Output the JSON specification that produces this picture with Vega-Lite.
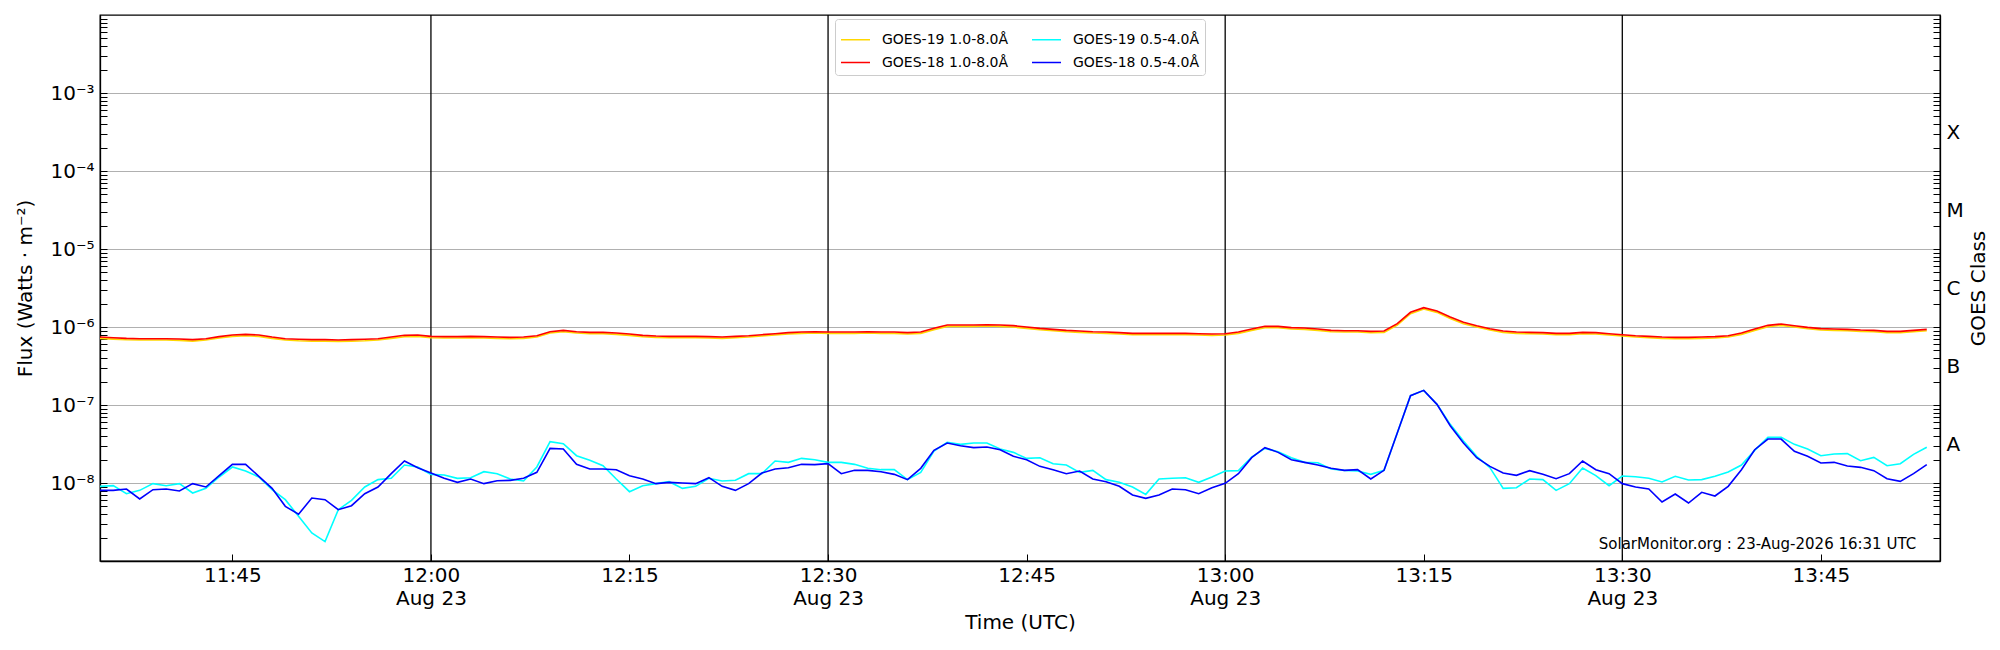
{
  "$schema": "https://vega.github.io/schema/vega-lite/v6.json",
  "width": 1840,
  "height": 546,
  "autosize": {"type": "none"},
  "padding": {"left": 100, "top": 15, "right": 60, "bottom": 89},
  "background": "white",
  "config": {
    "font": "DejaVu Sans",
    "view": {"stroke": "black", "strokeWidth": 1.3},
    "axis": {
      "domainColor": "black", "domainWidth": 1.3, "tickColor": "black", "tickWidth": 1,
      "labelColor": "black", "titleColor": "black", "titleFontWeight": "normal",
      "labelFontSize": 20, "titleFontSize": 20
    }
  },
  "data": {
    "values": [
      {"t": "2026-08-23T11:35:00Z", "g19l": 7.14e-7, "g18l": 7.44e-7, "g19s": 9.06e-9, "g18s": 8.05e-9},
      {"t": "2026-08-23T11:36:00Z", "g19l": 7.00e-7, "g18l": 7.29e-7, "g19s": 9.24e-9, "g18s": 8.05e-9},
      {"t": "2026-08-23T11:37:00Z", "g19l": 6.86e-7, "g18l": 7.15e-7, "g19s": 7.29e-9, "g18s": 8.38e-9},
      {"t": "2026-08-23T11:38:00Z", "g19l": 6.80e-7, "g18l": 7.08e-7, "g19s": 8.05e-9, "g18s": 6.24e-9},
      {"t": "2026-08-23T11:39:00Z", "g19l": 6.80e-7, "g18l": 7.08e-7, "g19s": 9.81e-9, "g18s": 8.21e-9},
      {"t": "2026-08-23T11:40:00Z", "g19l": 6.80e-7, "g18l": 7.08e-7, "g19s": 9.24e-9, "g18s": 8.38e-9},
      {"t": "2026-08-23T11:41:00Z", "g19l": 6.73e-7, "g18l": 7.01e-7, "g19s": 9.81e-9, "g18s": 7.90e-9},
      {"t": "2026-08-23T11:42:00Z", "g19l": 6.60e-7, "g18l": 6.88e-7, "g19s": 7.44e-9, "g18s": 9.81e-9},
      {"t": "2026-08-23T11:43:00Z", "g19l": 6.80e-7, "g18l": 7.08e-7, "g19s": 8.54e-9, "g18s": 8.89e-9},
      {"t": "2026-08-23T11:44:00Z", "g19l": 7.22e-7, "g18l": 7.52e-7, "g19s": 1.194e-8, "g18s": 1.242e-8},
      {"t": "2026-08-23T11:45:00Z", "g19l": 7.58e-7, "g18l": 7.90e-7, "g19s": 1.604e-8, "g18s": 1.735e-8},
      {"t": "2026-08-23T11:46:00Z", "g19l": 7.73e-7, "g18l": 8.05e-7, "g19s": 1.425e-8, "g18s": 1.735e-8},
      {"t": "2026-08-23T11:47:00Z", "g19l": 7.58e-7, "g18l": 7.90e-7, "g19s": 1.194e-8, "g18s": 1.218e-8},
      {"t": "2026-08-23T11:48:00Z", "g19l": 7.14e-7, "g18l": 7.44e-7, "g19s": 8.21e-9, "g18s": 8.54e-9},
      {"t": "2026-08-23T11:49:00Z", "g19l": 6.80e-7, "g18l": 7.08e-7, "g19s": 6.11e-9, "g18s": 5.02e-9},
      {"t": "2026-08-23T11:50:00Z", "g19l": 6.67e-7, "g18l": 6.95e-7, "g19s": 3.74e-9, "g18s": 3.97e-9},
      {"t": "2026-08-23T11:51:00Z", "g19l": 6.60e-7, "g18l": 6.88e-7, "g19s": 2.29e-9, "g18s": 6.42e-9},
      {"t": "2026-08-23T11:52:00Z", "g19l": 6.60e-7, "g18l": 6.88e-7, "g19s": 1.77e-9, "g18s": 6.11e-9},
      {"t": "2026-08-23T11:53:00Z", "g19l": 6.54e-7, "g18l": 6.81e-7, "g19s": 4.55e-9, "g18s": 4.55e-9},
      {"t": "2026-08-23T11:54:00Z", "g19l": 6.60e-7, "g18l": 6.88e-7, "g19s": 5.99e-9, "g18s": 5.12e-9},
      {"t": "2026-08-23T11:55:00Z", "g19l": 6.67e-7, "g18l": 6.95e-7, "g19s": 8.89e-9, "g18s": 7.29e-9},
      {"t": "2026-08-23T11:56:00Z", "g19l": 6.80e-7, "g18l": 7.08e-7, "g19s": 1.104e-8, "g18s": 8.89e-9},
      {"t": "2026-08-23T11:57:00Z", "g19l": 7.14e-7, "g18l": 7.44e-7, "g19s": 1.148e-8, "g18s": 1.317e-8},
      {"t": "2026-08-23T11:58:00Z", "g19l": 7.51e-7, "g18l": 7.82e-7, "g19s": 1.701e-8, "g18s": 1.914e-8},
      {"t": "2026-08-23T11:59:00Z", "g19l": 7.58e-7, "g18l": 7.90e-7, "g19s": 1.604e-8, "g18s": 1.572e-8},
      {"t": "2026-08-23T12:00:00Z", "g19l": 7.29e-7, "g18l": 7.59e-7, "g19s": 1.291e-8, "g18s": 1.343e-8},
      {"t": "2026-08-23T12:01:00Z", "g19l": 7.22e-7, "g18l": 7.52e-7, "g19s": 1.266e-8, "g18s": 1.148e-8},
      {"t": "2026-08-23T12:02:00Z", "g19l": 7.22e-7, "g18l": 7.52e-7, "g19s": 1.148e-8, "g18s": 1.020e-8},
      {"t": "2026-08-23T12:03:00Z", "g19l": 7.29e-7, "g18l": 7.59e-7, "g19s": 1.170e-8, "g18s": 1.125e-8},
      {"t": "2026-08-23T12:04:00Z", "g19l": 7.22e-7, "g18l": 7.52e-7, "g19s": 1.397e-8, "g18s": 9.81e-9},
      {"t": "2026-08-23T12:05:00Z", "g19l": 7.14e-7, "g18l": 7.44e-7, "g19s": 1.317e-8, "g18s": 1.071e-8},
      {"t": "2026-08-23T12:06:00Z", "g19l": 7.08e-7, "g18l": 7.37e-7, "g19s": 1.125e-8, "g18s": 1.082e-8},
      {"t": "2026-08-23T12:07:00Z", "g19l": 7.14e-7, "g18l": 7.44e-7, "g19s": 1.061e-8, "g18s": 1.148e-8},
      {"t": "2026-08-23T12:08:00Z", "g19l": 7.43e-7, "g18l": 7.74e-7, "g19s": 1.604e-8, "g18s": 1.370e-8},
      {"t": "2026-08-23T12:09:00Z", "g19l": 8.36e-7, "g18l": 8.71e-7, "g19s": 3.39e-8, "g18s": 2.78e-8},
      {"t": "2026-08-23T12:10:00Z", "g19l": 8.70e-7, "g18l": 9.06e-7, "g19s": 3.19e-8, "g18s": 2.73e-8},
      {"t": "2026-08-23T12:11:00Z", "g19l": 8.36e-7, "g18l": 8.71e-7, "g19s": 2.24e-8, "g18s": 1.735e-8},
      {"t": "2026-08-23T12:12:00Z", "g19l": 8.20e-7, "g18l": 8.54e-7, "g19s": 1.952e-8, "g18s": 1.512e-8},
      {"t": "2026-08-23T12:13:00Z", "g19l": 8.20e-7, "g18l": 8.54e-7, "g19s": 1.668e-8, "g18s": 1.512e-8},
      {"t": "2026-08-23T12:14:00Z", "g19l": 8.04e-7, "g18l": 8.38e-7, "g19s": 1.125e-8, "g18s": 1.482e-8},
      {"t": "2026-08-23T12:15:00Z", "g19l": 7.80e-7, "g18l": 8.13e-7, "g19s": 7.74e-9, "g18s": 1.242e-8},
      {"t": "2026-08-23T12:16:00Z", "g19l": 7.51e-7, "g18l": 7.82e-7, "g19s": 9.24e-9, "g18s": 1.125e-8},
      {"t": "2026-08-23T12:17:00Z", "g19l": 7.36e-7, "g18l": 7.67e-7, "g19s": 9.81e-9, "g18s": 9.81e-9},
      {"t": "2026-08-23T12:18:00Z", "g19l": 7.29e-7, "g18l": 7.59e-7, "g19s": 1.040e-8, "g18s": 1.020e-8},
      {"t": "2026-08-23T12:19:00Z", "g19l": 7.29e-7, "g18l": 7.59e-7, "g19s": 8.54e-9, "g18s": 1.000e-8},
      {"t": "2026-08-23T12:20:00Z", "g19l": 7.29e-7, "g18l": 7.59e-7, "g19s": 9.06e-9, "g18s": 9.81e-9},
      {"t": "2026-08-23T12:21:00Z", "g19l": 7.22e-7, "g18l": 7.52e-7, "g19s": 1.148e-8, "g18s": 1.170e-8},
      {"t": "2026-08-23T12:22:00Z", "g19l": 7.14e-7, "g18l": 7.44e-7, "g19s": 1.061e-8, "g18s": 9.06e-9},
      {"t": "2026-08-23T12:23:00Z", "g19l": 7.29e-7, "g18l": 7.59e-7, "g19s": 1.082e-8, "g18s": 8.05e-9},
      {"t": "2026-08-23T12:24:00Z", "g19l": 7.43e-7, "g18l": 7.74e-7, "g19s": 1.317e-8, "g18s": 9.81e-9},
      {"t": "2026-08-23T12:25:00Z", "g19l": 7.65e-7, "g18l": 7.97e-7, "g19s": 1.317e-8, "g18s": 1.343e-8},
      {"t": "2026-08-23T12:26:00Z", "g19l": 7.88e-7, "g18l": 8.21e-7, "g19s": 1.914e-8, "g18s": 1.512e-8},
      {"t": "2026-08-23T12:27:00Z", "g19l": 8.12e-7, "g18l": 8.46e-7, "g19s": 1.840e-8, "g18s": 1.572e-8},
      {"t": "2026-08-23T12:28:00Z", "g19l": 8.28e-7, "g18l": 8.63e-7, "g19s": 2.07e-8, "g18s": 1.735e-8},
      {"t": "2026-08-23T12:29:00Z", "g19l": 8.36e-7, "g18l": 8.71e-7, "g19s": 1.99e-8, "g18s": 1.718e-8},
      {"t": "2026-08-23T12:30:00Z", "g19l": 8.28e-7, "g18l": 8.63e-7, "g19s": 1.840e-8, "g18s": 1.769e-8},
      {"t": "2026-08-23T12:31:00Z", "g19l": 8.28e-7, "g18l": 8.63e-7, "g19s": 1.840e-8, "g18s": 1.317e-8},
      {"t": "2026-08-23T12:32:00Z", "g19l": 8.28e-7, "g18l": 8.63e-7, "g19s": 1.735e-8, "g18s": 1.453e-8},
      {"t": "2026-08-23T12:33:00Z", "g19l": 8.36e-7, "g18l": 8.71e-7, "g19s": 1.542e-8, "g18s": 1.453e-8},
      {"t": "2026-08-23T12:34:00Z", "g19l": 8.28e-7, "g18l": 8.63e-7, "g19s": 1.482e-8, "g18s": 1.397e-8},
      {"t": "2026-08-23T12:35:00Z", "g19l": 8.28e-7, "g18l": 8.63e-7, "g19s": 1.482e-8, "g18s": 1.291e-8},
      {"t": "2026-08-23T12:36:00Z", "g19l": 8.12e-7, "g18l": 8.46e-7, "g19s": 1.104e-8, "g18s": 1.104e-8},
      {"t": "2026-08-23T12:37:00Z", "g19l": 8.28e-7, "g18l": 8.63e-7, "g19s": 1.370e-8, "g18s": 1.542e-8},
      {"t": "2026-08-23T12:38:00Z", "g19l": 9.23e-7, "g18l": 9.61e-7, "g19s": 2.57e-8, "g18s": 2.62e-8},
      {"t": "2026-08-23T12:39:00Z", "g19l": 1.019e-6, "g18l": 1.061e-6, "g19s": 3.32e-8, "g18s": 3.26e-8},
      {"t": "2026-08-23T12:40:00Z", "g19l": 1.019e-6, "g18l": 1.061e-6, "g19s": 3.13e-8, "g18s": 3.01e-8},
      {"t": "2026-08-23T12:41:00Z", "g19l": 1.019e-6, "g18l": 1.061e-6, "g19s": 3.26e-8, "g18s": 2.84e-8},
      {"t": "2026-08-23T12:42:00Z", "g19l": 1.028e-6, "g18l": 1.071e-6, "g19s": 3.26e-8, "g18s": 2.89e-8},
      {"t": "2026-08-23T12:43:00Z", "g19l": 1.019e-6, "g18l": 1.061e-6, "g19s": 2.73e-8, "g18s": 2.67e-8},
      {"t": "2026-08-23T12:44:00Z", "g19l": 9.98e-7, "g18l": 1.040e-6, "g19s": 2.47e-8, "g18s": 2.20e-8},
      {"t": "2026-08-23T12:45:00Z", "g19l": 9.60e-7, "g18l": 1.000e-6, "g19s": 2.07e-8, "g18s": 1.991e-8},
      {"t": "2026-08-23T12:46:00Z", "g19l": 9.23e-7, "g18l": 9.61e-7, "g19s": 2.11e-8, "g18s": 1.635e-8},
      {"t": "2026-08-23T12:47:00Z", "g19l": 8.96e-7, "g18l": 9.33e-7, "g19s": 1.769e-8, "g18s": 1.482e-8},
      {"t": "2026-08-23T12:48:00Z", "g19l": 8.70e-7, "g18l": 9.06e-7, "g19s": 1.701e-8, "g18s": 1.317e-8},
      {"t": "2026-08-23T12:49:00Z", "g19l": 8.53e-7, "g18l": 8.89e-7, "g19s": 1.370e-8, "g18s": 1.425e-8},
      {"t": "2026-08-23T12:50:00Z", "g19l": 8.36e-7, "g18l": 8.71e-7, "g19s": 1.453e-8, "g18s": 1.125e-8},
      {"t": "2026-08-23T12:51:00Z", "g19l": 8.28e-7, "g18l": 8.63e-7, "g19s": 1.104e-8, "g18s": 1.040e-8},
      {"t": "2026-08-23T12:52:00Z", "g19l": 8.12e-7, "g18l": 8.46e-7, "g19s": 1.020e-8, "g18s": 9.06e-9},
      {"t": "2026-08-23T12:53:00Z", "g19l": 7.96e-7, "g18l": 8.29e-7, "g19s": 8.89e-9, "g18s": 7.01e-9},
      {"t": "2026-08-23T12:54:00Z", "g19l": 7.96e-7, "g18l": 8.29e-7, "g19s": 7.15e-9, "g18s": 6.36e-9},
      {"t": "2026-08-23T12:55:00Z", "g19l": 7.96e-7, "g18l": 8.29e-7, "g19s": 1.125e-8, "g18s": 7.01e-9},
      {"t": "2026-08-23T12:56:00Z", "g19l": 7.96e-7, "g18l": 8.29e-7, "g19s": 1.148e-8, "g18s": 8.38e-9},
      {"t": "2026-08-23T12:57:00Z", "g19l": 7.96e-7, "g18l": 8.29e-7, "g19s": 1.170e-8, "g18s": 8.21e-9},
      {"t": "2026-08-23T12:58:00Z", "g19l": 7.88e-7, "g18l": 8.21e-7, "g19s": 1.020e-8, "g18s": 7.29e-9},
      {"t": "2026-08-23T12:59:00Z", "g19l": 7.80e-7, "g18l": 8.13e-7, "g19s": 1.194e-8, "g18s": 8.71e-9},
      {"t": "2026-08-23T13:00:00Z", "g19l": 7.88e-7, "g18l": 8.21e-7, "g19s": 1.425e-8, "g18s": 9.90e-9},
      {"t": "2026-08-23T13:01:00Z", "g19l": 8.28e-7, "g18l": 8.63e-7, "g19s": 1.439e-8, "g18s": 1.317e-8},
      {"t": "2026-08-23T13:02:00Z", "g19l": 9.05e-7, "g18l": 9.43e-7, "g19s": 2.15e-8, "g18s": 2.11e-8},
      {"t": "2026-08-23T13:03:00Z", "g19l": 9.79e-7, "g18l": 1.020e-6, "g19s": 2.78e-8, "g18s": 2.84e-8},
      {"t": "2026-08-23T13:04:00Z", "g19l": 9.79e-7, "g18l": 1.020e-6, "g19s": 2.52e-8, "g18s": 2.47e-8},
      {"t": "2026-08-23T13:05:00Z", "g19l": 9.42e-7, "g18l": 9.81e-7, "g19s": 2.11e-8, "g18s": 1.991e-8},
      {"t": "2026-08-23T13:06:00Z", "g19l": 9.32e-7, "g18l": 9.71e-7, "g19s": 1.840e-8, "g18s": 1.840e-8},
      {"t": "2026-08-23T13:07:00Z", "g19l": 9.05e-7, "g18l": 9.43e-7, "g19s": 1.82e-8, "g18s": 1.701e-8},
      {"t": "2026-08-23T13:08:00Z", "g19l": 8.70e-7, "g18l": 9.06e-7, "g19s": 1.512e-8, "g18s": 1.542e-8},
      {"t": "2026-08-23T13:09:00Z", "g19l": 8.61e-7, "g18l": 8.97e-7, "g19s": 1.453e-8, "g18s": 1.453e-8},
      {"t": "2026-08-23T13:10:00Z", "g19l": 8.61e-7, "g18l": 8.97e-7, "g19s": 1.425e-8, "g18s": 1.482e-8},
      {"t": "2026-08-23T13:11:00Z", "g19l": 8.45e-7, "g18l": 8.80e-7, "g19s": 1.291e-8, "g18s": 1.125e-8},
      {"t": "2026-08-23T13:12:00Z", "g19l": 8.53e-7, "g18l": 8.89e-7, "g19s": 1.453e-8, "g18s": 1.453e-8},
      {"t": "2026-08-23T13:13:00Z", "g19l": 1.060e-6, "g18l": 1.104e-6, "g19s": 4.37e-8, "g18s": 4.37e-8},
      {"t": "2026-08-23T13:14:00Z", "g19l": 1.480e-6, "g18l": 1.542e-6, "g19s": 1.317e-7, "g18s": 1.317e-7},
      {"t": "2026-08-23T13:15:00Z", "g19l": 1.698e-6, "g18l": 1.769e-6, "g19s": 1.542e-7, "g18s": 1.542e-7},
      {"t": "2026-08-23T13:16:00Z", "g19l": 1.540e-6, "g18l": 1.604e-6, "g19s": 1.020e-7, "g18s": 1.020e-7},
      {"t": "2026-08-23T13:17:00Z", "g19l": 1.289e-6, "g18l": 1.343e-6, "g19s": 5.65e-8, "g18s": 5.43e-8},
      {"t": "2026-08-23T13:18:00Z", "g19l": 1.102e-6, "g18l": 1.148e-6, "g19s": 3.45e-8, "g18s": 3.26e-8},
      {"t": "2026-08-23T13:19:00Z", "g19l": 9.98e-7, "g18l": 1.040e-6, "g19s": 2.20e-8, "g18s": 2.11e-8},
      {"t": "2026-08-23T13:20:00Z", "g19l": 9.14e-7, "g18l": 9.52e-7, "g19s": 1.572e-8, "g18s": 1.635e-8},
      {"t": "2026-08-23T13:21:00Z", "g19l": 8.53e-7, "g18l": 8.89e-7, "g19s": 8.54e-9, "g18s": 1.343e-8},
      {"t": "2026-08-23T13:22:00Z", "g19l": 8.28e-7, "g18l": 8.63e-7, "g19s": 8.71e-9, "g18s": 1.254e-8},
      {"t": "2026-08-23T13:23:00Z", "g19l": 8.20e-7, "g18l": 8.54e-7, "g19s": 1.125e-8, "g18s": 1.439e-8},
      {"t": "2026-08-23T13:24:00Z", "g19l": 8.12e-7, "g18l": 8.46e-7, "g19s": 1.104e-8, "g18s": 1.291e-8},
      {"t": "2026-08-23T13:25:00Z", "g19l": 7.96e-7, "g18l": 8.29e-7, "g19s": 8.05e-9, "g18s": 1.136e-8},
      {"t": "2026-08-23T13:26:00Z", "g19l": 7.96e-7, "g18l": 8.29e-7, "g19s": 9.81e-9, "g18s": 1.317e-8},
      {"t": "2026-08-23T13:27:00Z", "g19l": 8.20e-7, "g18l": 8.54e-7, "g19s": 1.557e-8, "g18s": 1.914e-8},
      {"t": "2026-08-23T13:28:00Z", "g19l": 8.12e-7, "g18l": 8.46e-7, "g19s": 1.242e-8, "g18s": 1.482e-8},
      {"t": "2026-08-23T13:29:00Z", "g19l": 7.88e-7, "g18l": 8.21e-7, "g19s": 9.24e-9, "g18s": 1.317e-8},
      {"t": "2026-08-23T13:30:00Z", "g19l": 7.65e-7, "g18l": 7.97e-7, "g19s": 1.230e-8, "g18s": 9.81e-9},
      {"t": "2026-08-23T13:31:00Z", "g19l": 7.43e-7, "g18l": 7.74e-7, "g19s": 1.205e-8, "g18s": 8.89e-9},
      {"t": "2026-08-23T13:32:00Z", "g19l": 7.29e-7, "g18l": 7.59e-7, "g19s": 1.148e-8, "g18s": 8.38e-9},
      {"t": "2026-08-23T13:33:00Z", "g19l": 7.14e-7, "g18l": 7.44e-7, "g19s": 1.030e-8, "g18s": 5.71e-9},
      {"t": "2026-08-23T13:34:00Z", "g19l": 7.08e-7, "g18l": 7.37e-7, "g19s": 1.218e-8, "g18s": 7.22e-9},
      {"t": "2026-08-23T13:35:00Z", "g19l": 7.08e-7, "g18l": 7.37e-7, "g19s": 1.093e-8, "g18s": 5.54e-9},
      {"t": "2026-08-23T13:36:00Z", "g19l": 7.14e-7, "g18l": 7.44e-7, "g19s": 1.104e-8, "g18s": 7.59e-9},
      {"t": "2026-08-23T13:37:00Z", "g19l": 7.22e-7, "g18l": 7.52e-7, "g19s": 1.218e-8, "g18s": 6.81e-9},
      {"t": "2026-08-23T13:38:00Z", "g19l": 7.43e-7, "g18l": 7.74e-7, "g19s": 1.383e-8, "g18s": 9.06e-9},
      {"t": "2026-08-23T13:39:00Z", "g19l": 8.04e-7, "g18l": 8.38e-7, "g19s": 1.701e-8, "g18s": 1.482e-8},
      {"t": "2026-08-23T13:40:00Z", "g19l": 9.05e-7, "g18l": 9.43e-7, "g19s": 2.62e-8, "g18s": 2.67e-8},
      {"t": "2026-08-23T13:41:00Z", "g19l": 1.008e-6, "g18l": 1.050e-6, "g19s": 3.85e-8, "g18s": 3.66e-8},
      {"t": "2026-08-23T13:42:00Z", "g19l": 1.049e-6, "g18l": 1.093e-6, "g19s": 3.85e-8, "g18s": 3.66e-8},
      {"t": "2026-08-23T13:43:00Z", "g19l": 9.98e-7, "g18l": 1.040e-6, "g19s": 3.13e-8, "g18s": 2.55e-8},
      {"t": "2026-08-23T13:44:00Z", "g19l": 9.50e-7, "g18l": 9.90e-7, "g19s": 2.73e-8, "g18s": 2.20e-8},
      {"t": "2026-08-23T13:45:00Z", "g19l": 9.14e-7, "g18l": 9.52e-7, "g19s": 2.24e-8, "g18s": 1.804e-8},
      {"t": "2026-08-23T13:46:00Z", "g19l": 9.05e-7, "g18l": 9.43e-7, "g19s": 2.35e-8, "g18s": 1.840e-8},
      {"t": "2026-08-23T13:47:00Z", "g19l": 8.96e-7, "g18l": 9.33e-7, "g19s": 2.38e-8, "g18s": 1.651e-8},
      {"t": "2026-08-23T13:48:00Z", "g19l": 8.78e-7, "g18l": 9.15e-7, "g19s": 1.933e-8, "g18s": 1.588e-8},
      {"t": "2026-08-23T13:49:00Z", "g19l": 8.70e-7, "g18l": 9.06e-7, "g19s": 2.13e-8, "g18s": 1.439e-8},
      {"t": "2026-08-23T13:50:00Z", "g19l": 8.45e-7, "g18l": 8.80e-7, "g19s": 1.668e-8, "g18s": 1.136e-8},
      {"t": "2026-08-23T13:51:00Z", "g19l": 8.45e-7, "g18l": 8.80e-7, "g19s": 1.769e-8, "g18s": 1.050e-8},
      {"t": "2026-08-23T13:52:00Z", "g19l": 8.70e-7, "g18l": 9.06e-7, "g19s": 2.33e-8, "g18s": 1.317e-8},
      {"t": "2026-08-23T13:53:00Z", "g19l": 8.96e-7, "g18l": 9.33e-7, "g19s": 2.87e-8, "g18s": 1.718e-8}
    ]
  },
  "encoding": {
    "x": {
      "field": "t",
      "type": "temporal",
      "scale": {
        "type": "utc",
        "nice": false,
        "domain": [
          {"year": 2026, "month": 8, "date": 23, "hours": 11, "minutes": 35, "utc": true},
          {"year": 2026, "month": 8, "date": 23, "hours": 13, "minutes": 54, "utc": true}
        ]
      },
      "axis": {
        "title": "Time (UTC)",
        "titlePadding": 4,
        "grid": false,
        "tickSize": -7,
        "labelPadding": 11,
        "labelLineHeight": 23,
        "labelFlush": false,
        "values": [
          {"year": 2026, "month": 8, "date": 23, "hours": 11, "minutes": 45, "utc": true},
          {"year": 2026, "month": 8, "date": 23, "hours": 12, "minutes": 0, "utc": true},
          {"year": 2026, "month": 8, "date": 23, "hours": 12, "minutes": 15, "utc": true},
          {"year": 2026, "month": 8, "date": 23, "hours": 12, "minutes": 30, "utc": true},
          {"year": 2026, "month": 8, "date": 23, "hours": 12, "minutes": 45, "utc": true},
          {"year": 2026, "month": 8, "date": 23, "hours": 13, "minutes": 0, "utc": true},
          {"year": 2026, "month": 8, "date": 23, "hours": 13, "minutes": 15, "utc": true},
          {"year": 2026, "month": 8, "date": 23, "hours": 13, "minutes": 30, "utc": true},
          {"year": 2026, "month": 8, "date": 23, "hours": 13, "minutes": 45, "utc": true}
        ],
        "labelExpr": "[utcFormat(datum.value, '%H:%M'), (utcFormat(datum.value, '%M') == '00' || utcFormat(datum.value, '%M') == '30') ? utcFormat(datum.value, '%b %d') : '']"
      }
    }
  },
  "layer": [
    {
      "layer": [
        {
          "data": {"values": [
            {"t": "2026-08-23T12:00:00Z"},
            {"t": "2026-08-23T12:30:00Z"},
            {"t": "2026-08-23T13:00:00Z"},
            {"t": "2026-08-23T13:30:00Z"}
          ]},
          "mark": {"type": "rule", "color": "black", "strokeWidth": 1.3},
          "encoding": {}
        },
        {
          "mark": {"type": "line", "strokeWidth": 1.6},
          "encoding": {
            "y": {
              "field": "g19l",
              "type": "quantitative",
              "scale": {"type": "log", "domain": [1e-9, 1e-2]},
              "axis": {
                "orient": "left",
                "title": "Flux (Watts · m⁻²)",
                "titlePadding": 14,
                "tickSize": -7,
                "labelPadding": 13,
                "labelFlush": false,
                "grid": true,
                "gridColor": "#b0b0b0",
                "gridWidth": 1,
                "gridOpacity": {"condition": {"test": "abs(log(datum.value) / LN10 - round(log(datum.value) / LN10)) < 0.01", "value": 1}, "value": 0},
                "values": [2e-9, 3e-9, 4e-9, 5e-9, 6e-9, 7e-9, 8e-9, 9e-9,
                  1e-8, 2e-8, 3e-8, 4e-8, 5e-8, 6e-8, 7e-8, 8e-8, 9e-8,
                  1e-7, 2e-7, 3e-7, 4e-7, 5e-7, 6e-7, 7e-7, 8e-7, 9e-7,
                  1e-6, 2e-6, 3e-6, 4e-6, 5e-6, 6e-6, 7e-6, 8e-6, 9e-6,
                  1e-5, 2e-5, 3e-5, 4e-5, 5e-5, 6e-5, 7e-5, 8e-5, 9e-5,
                  1e-4, 2e-4, 3e-4, 4e-4, 5e-4, 6e-4, 7e-4, 8e-4, 9e-4,
                  1e-3, 2e-3, 3e-3, 4e-3, 5e-3, 6e-3, 7e-3, 8e-3, 9e-3],
                "labelExpr": "abs(log(datum.value) / LN10 - round(log(datum.value) / LN10)) < 0.01 ? '10⁻' + ['⁰','¹','²','³','⁴','⁵','⁶','⁷','⁸','⁹'][-round(log(datum.value) / LN10)] : ''"
              }
            },
            "color": {
              "datum": "GOES-19 1.0-8.0Å",
              "scale": {
                "domain": ["GOES-19 1.0-8.0Å", "GOES-18 1.0-8.0Å", "GOES-19 0.5-4.0Å", "GOES-18 0.5-4.0Å"],
                "range": ["#ffd700", "#ff0000", "#00ffff", "#0000ff"]
              },
              "legend": {
                "orient": "none",
                "legendX": 735,
                "legendY": 4,
                "columns": 2,
                "title": null,
                "symbolType": "stroke",
                "symbolStrokeWidth": 1.5,
                "symbolSize": 841,
                "labelFontSize": 14,
                "labelColor": "black",
                "labelOffset": 11,
                "columnPadding": 20,
                "rowPadding": 0,
                "padding": 5,
                "strokeColor": "#cccccc",
                "fillColor": "white",
                "cornerRadius": 3
              }
            }
          }
        },
        {
          "mark": {"type": "line", "strokeWidth": 1.6},
          "encoding": {
            "y": {"field": "g19s", "type": "quantitative", "scale": {"type": "log", "domain": [1e-9, 1e-2]}, "axis": {"title": "Flux (Watts · m⁻²)"}},
            "color": {"datum": "GOES-19 0.5-4.0Å"}
          }
        },
        {
          "mark": {"type": "line", "strokeWidth": 1.6},
          "encoding": {
            "y": {"field": "g18l", "type": "quantitative", "scale": {"type": "log", "domain": [1e-9, 1e-2]}, "axis": {"title": "Flux (Watts · m⁻²)"}},
            "color": {"datum": "GOES-18 1.0-8.0Å"}
          }
        },
        {
          "mark": {"type": "line", "strokeWidth": 1.6},
          "encoding": {
            "y": {"field": "g18s", "type": "quantitative", "scale": {"type": "log", "domain": [1e-9, 1e-2]}, "axis": {"title": "Flux (Watts · m⁻²)"}},
            "color": {"datum": "GOES-18 0.5-4.0Å"}
          }
        },
        {
          "transform": [{"filter": {"field": "g18s", "gt": 1.5e-7}}],
          "mark": {"type": "text", "align": "right", "baseline": "alphabetic", "fontSize": 15, "color": "black", "text": "SolarMonitor.org : 23-Aug-2026 16:31 UTC"},
          "encoding": {
            "x": {"datum": {"year": 2026, "month": 8, "date": 23, "hours": 13, "minutes": 52, "seconds": 12, "utc": true}, "type": "temporal"},
            "y": {"datum": 1.44e-9, "type": "quantitative", "scale": {"type": "log", "domain": [1e-9, 1e-2]}, "axis": {"title": "Flux (Watts · m⁻²)"}}
          }
        }
      ]
    },
    {
      "mark": {"type": "point", "opacity": 0},
      "encoding": {
        "y": {
          "field": "g18l",
          "type": "quantitative",
          "scale": {"type": "log", "domain": [1e-9, 1e-2]},
          "axis": {
            "orient": "right",
            "title": "GOES Class",
            "titleAngle": 270,
            "titleBaseline": "top",
            "titlePadding": 5,
            "grid": false,
            "tickSize": -7,
            "labelPadding": 13,
            "labelOffset": -39,
            "labelFlush": false,
            "values": [2e-9, 3e-9, 4e-9, 5e-9, 6e-9, 7e-9, 8e-9, 9e-9,
              1e-8, 2e-8, 3e-8, 4e-8, 5e-8, 6e-8, 7e-8, 8e-8, 9e-8,
              1e-7, 2e-7, 3e-7, 4e-7, 5e-7, 6e-7, 7e-7, 8e-7, 9e-7,
              1e-6, 2e-6, 3e-6, 4e-6, 5e-6, 6e-6, 7e-6, 8e-6, 9e-6,
              1e-5, 2e-5, 3e-5, 4e-5, 5e-5, 6e-5, 7e-5, 8e-5, 9e-5,
              1e-4, 2e-4, 3e-4, 4e-4, 5e-4, 6e-4, 7e-4, 8e-4, 9e-4,
              1e-3, 2e-3, 3e-3, 4e-3, 5e-3, 6e-3, 7e-3, 8e-3, 9e-3],
            "labelExpr": "abs(log(datum.value) / LN10 - round(log(datum.value) / LN10)) < 0.01 ? ['', '', '', '', 'X', 'M', 'C', 'B', 'A', ''][-round(log(datum.value) / LN10)] : ''"
          }
        }
      }
    }
  ],
  "resolve": {"axis": {"y": "independent"}}
}
